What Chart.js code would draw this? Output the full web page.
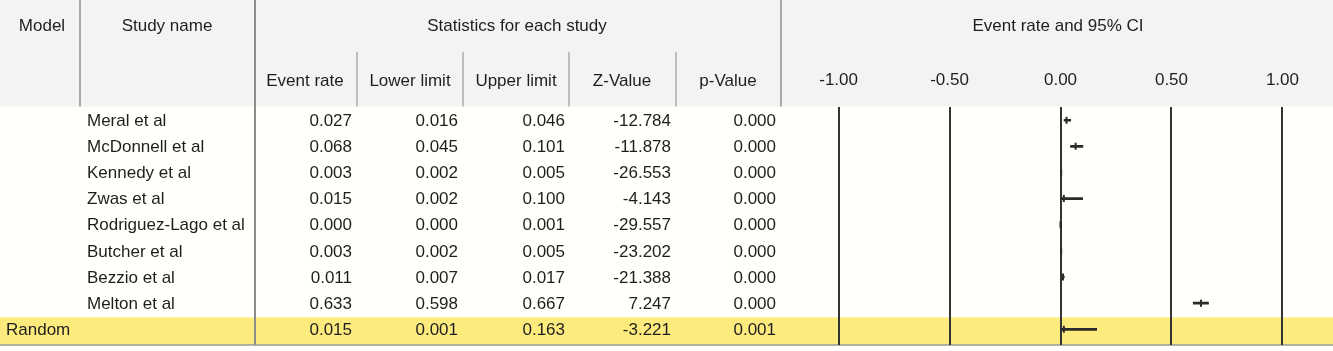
<!DOCTYPE html>
<html>
<head>
<meta charset="utf-8">
<script src="https://cdn.jsdelivr.net/npm/chart.js@4.4.1/dist/chart.umd.min.js"></script>
<style>
    body { margin: 0; background: #fffffb; }
    #contenedor { position: relative; width: 1333px; height: 351px; }
</style>
</head>
<body>
<div id="contenedor"><canvas id="grafica"></canvas></div>
<script>
var nombresEstudios = ['Meral et al', 'McDonnell et al', 'Kennedy et al', 'Zwas et al', 'Rodriguez-Lago et al', 'Butcher et al', 'Bezzio et al', 'Melton et al', ''];
var modelos = ['', '', '', '', '', '', '', '', 'Random'];
var tasaEvento = [0.027, 0.068, 0.003, 0.015, 0.000, 0.003, 0.011, 0.633, 0.015];
var limiteInferior = [0.016, 0.045, 0.002, 0.002, 0.000, 0.002, 0.007, 0.598, 0.001];
var limiteSuperior = [0.046, 0.101, 0.005, 0.100, 0.001, 0.005, 0.017, 0.667, 0.163];
var valorZ = [-12.784, -11.878, -26.553, -4.143, -29.557, -23.202, -21.388, 7.247, -3.221];
var valorP = [0.000, 0.000, 0.000, 0.000, 0.000, 0.000, 0.000, 0.000, 0.001];
var marcasX = [-1.00, -0.50, 0.00, 0.50, 1.00];

var fuente = "'Liberation Sans', Arial, sans-serif";
var colorTexto = '#1e1e1e';

// columnas de la tabla (x derecha de cada valor, centro del titulo)
var columnasValores = [
    { titulo: 'Event rate', datos: tasaEvento, derecha: 352, centro: 305 },
    { titulo: 'Lower limit', datos: limiteInferior, derecha: 458, centro: 410 },
    { titulo: 'Upper limit', datos: limiteSuperior, derecha: 565, centro: 516 },
    { titulo: 'Z-Value', datos: valorZ, derecha: 671, centro: 622 },
    { titulo: 'p-Value', datos: valorP, derecha: 776, centro: 728 }
];

function linea(ctx, x1, y1, x2, y2, color, ancho) {
    ctx.strokeStyle = color;
    ctx.lineWidth = ancho;
    ctx.beginPath();
    ctx.moveTo(x1, y1);
    ctx.lineTo(x2, y2);
    ctx.stroke();
}

var tablaPlugin = {
    id: 'tabla',
    beforeDraw: function (chart) {
        var ctx = chart.ctx;
        var yEscala = chart.scales.y;
        var area = chart.chartArea;
        ctx.save();
        ctx.fillStyle = '#fffffb';
        ctx.fillRect(0, 0, chart.width, chart.height);
        // cabecera gris
        ctx.fillStyle = '#f3f3f3';
        ctx.fillRect(0, 0, chart.width, area.top - 1);
        // fila del modelo aleatorio
        var yRandom = yEscala.getPixelForValue(tasaEvento.length - 1);
        ctx.fillStyle = '#fdeb7e';
        ctx.fillRect(0, yRandom - 12, chart.width, area.bottom - (yRandom - 12));
        // separadores
        linea(ctx, 80, 0, 80, area.top - 1, '#a8a8a8', 2);
        linea(ctx, 255, 0, 255, area.bottom, '#8c8c8c', 2);
        linea(ctx, 781, 0, 781, area.top - 1, '#a8a8a8', 2);
        [357, 463, 569, 676].forEach(function (x) {
            linea(ctx, x, 52, x, area.top - 1, '#bdbdbd', 2);
        });
        linea(ctx, 0, area.bottom, chart.width, area.bottom, '#9a9a9a', 1.5);
        ctx.restore();
    },
    afterDraw: function (chart) {
        var ctx = chart.ctx;
        var yEscala = chart.scales.y;
        ctx.save();
        ctx.fillStyle = colorTexto;
        ctx.font = '17px ' + fuente;
        ctx.textBaseline = 'middle';
        ctx.textAlign = 'center';
        ctx.fillText('Model', 42, 26);
        ctx.fillText('Study name', 167, 26);
        ctx.fillText('Statistics for each study', 517, 26);
        ctx.fillText('Event rate and 95% CI', 1058, 26);
        for (var c = 0; c < columnasValores.length; c++) {
            ctx.fillText(columnasValores[c].titulo, columnasValores[c].centro, 81);
        }
        for (var i = 0; i < tasaEvento.length; i++) {
            var y = yEscala.getPixelForValue(i) + 1;
            ctx.textAlign = 'left';
            ctx.fillText(modelos[i], 6, y);
            ctx.fillText(nombresEstudios[i], 87, y);
            ctx.textAlign = 'right';
            for (var k = 0; k < columnasValores.length; k++) {
                ctx.fillText(columnasValores[k].datos[i].toFixed(3), columnasValores[k].derecha, y);
            }
        }
        ctx.restore();
    }
};

function generarGrafica() {
    var filas = tasaEvento.map(function (v, i) { return i; });
    var ctx = document.getElementById('grafica').getContext('2d');
    new Chart(ctx, {
        type: 'bar',
        data: {
            datasets: [{
                type: 'bar',
                indexAxis: 'y',
                data: filas.map(function (i) { return { y: i, x: [limiteInferior[i], limiteSuperior[i]] }; }),
                backgroundColor: '#2a2a2a',
                borderWidth: 0,
                barThickness: 2
            }, {
                type: 'scatter',
                data: filas.map(function (i) { return { x: tasaEvento[i], y: i }; }),
                pointStyle: 'line',
                rotation: 90,
                pointRadius: 3.5,
                borderColor: '#2a2a2a',
                borderWidth: 2
            }]
        },
        options: {
            responsive: true,
            maintainAspectRatio: false,
            animation: false,
            events: [],
            layout: { padding: { left: 781, top: 53, right: 0, bottom: 2 } },
            plugins: { legend: { display: false }, tooltip: { enabled: false } },
            scales: {
                x: {
                    type: 'linear',
                    position: 'top',
                    offset: false,
                    min: -1.2596,
                    max: 1.2009,
                    afterBuildTicks: function (escala) {
                        escala.ticks = marcasX.map(function (v) { return { value: v }; });
                    },
                    ticks: {
                        autoSkip: false,
                        maxRotation: 0,
                        padding: 17,
                        color: colorTexto,
                        font: { family: fuente, size: 17, lineHeight: 1.2 },
                        callback: function (v) { return Number(v).toFixed(2); }
                    },
                    grid: { color: '#333333', lineWidth: 2, drawTicks: false, offset: false },
                    border: { display: false }
                },
                y: {
                    type: 'linear',
                    display: false,
                    reverse: true,
                    min: -0.49,
                    max: 8.6,
                    offset: false,
                    grid: { offset: false }
                }
            }
        },
        plugins: [tablaPlugin]
    });
}

generarGrafica();
</script>
</body>
</html>
